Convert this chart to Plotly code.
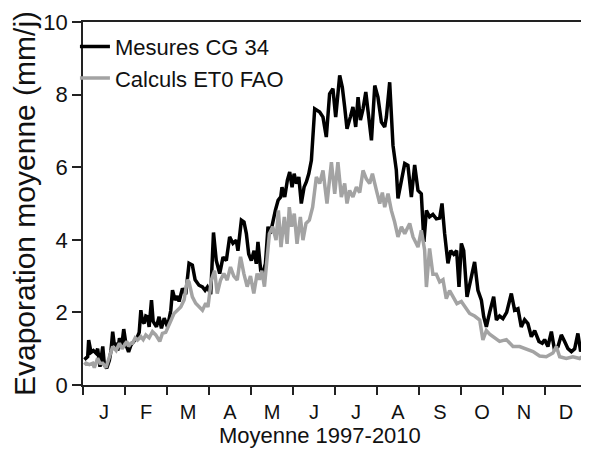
import plotly.graph_objects as go

# Day of year (1-365) at which values were read, and mean evaporation (mm/j)
days_mesures = [1, 3.4, 4.1, 5.8, 7.5, 9.4, 10.6, 12.3, 14.3, 15.5, 17.2, 19.1, 20.3, 21.5, 22.7, 24, 25.2,
                26.4, 28.1, 29.5, 31.2, 33, 34.7, 35.9, 37.8, 39.5, 40.7, 41.9, 43.1, 44.3, 45.5, 46.7,
                47.9, 49.6, 50.8, 53.2, 55.1, 56.8, 58.8, 61.2, 63.6, 64.8, 66.7, 68.4, 69.6, 72, 74.4,
                76.8, 79.2, 81.2, 84, 86.5, 88.4, 90.1, 92.5, 94.5, 96.5, 99, 101.4, 103.8, 106.2, 108.6,
                111, 112.2, 114.7, 116.6, 118.3, 120, 121.9, 123.9, 125.5, 126.7, 128.7, 130.4, 132.1,
                134, 135.7, 137.6, 139.3, 141.3, 143.2, 144.1, 146.1, 148, 149.7, 151.4, 152.9, 154.6,
                156.3, 158.1, 160.1, 161.8, 163.5, 165.4, 166.6, 167.8, 171.4, 173.8, 176.2, 178.6, 181,
                183, 185.9, 187.8, 189.5, 191.2, 193.6, 195.5, 197.5, 199.2, 200.9, 202.8, 204.8, 207.1,
                208.9, 211.3, 213.6, 216.1, 218.5, 219.7, 222.1, 224.5, 225.7, 226.9, 228.1, 230.6, 233,
                235.3, 237.8, 240.2, 242.6, 245, 246.9, 248.7, 251, 253.4, 255.9, 258.3, 260, 261.9,
                264.3, 266.3, 268.5, 270.6, 272.3, 274, 275.7, 278.1, 281.2, 283.6, 286, 288.5, 290.2,
                292.1, 294.5, 297.4, 299.4, 301.7, 304.1, 306.8, 310.2, 312.6, 315, 317.4, 319.8, 322.2,
                324.7, 327.1, 330.2, 332.6, 334.3, 336.7, 339.2, 341.5, 344, 346.4, 348.8, 351.2, 353.7,
                356.1, 358.4, 360.4, 362.1, 364.6]
mesures_cg34 = [0.7, 0.78, 1.24, 0.9, 0.95, 0.88, 1.0, 0.5, 1.06, 0.55, 0.46, 0.68, 0.95, 1.47, 1.1, 1.15, 0.95,
                1.29, 1.1, 1.54, 1.1, 0.91, 1.1, 1.15, 1.25, 1.33, 1.45, 2.06, 1.75, 1.7, 1.9, 1.88,
                1.6, 2.34, 1.75, 1.6, 1.88, 1.56, 1.84, 1.6, 2.06, 2.61, 2.34, 2.45, 2.3, 2.66, 2.5,
                3.35, 3.3, 2.9, 2.75, 2.7, 2.61, 2.7, 2.5, 4.2, 3.43, 3.07, 3.52, 3.43, 4.08, 3.9,
                3.99, 3.7, 4.54, 4.49, 4.17, 3.61, 3.43, 3.7, 3.34, 3.94, 3.15, 3.1, 3.34,
                4.36, 4.17, 4.54, 4.81, 5.09, 5.18, 5.45, 5.18, 5.64, 5.87, 5.45, 5.82, 5.55,
                5.73, 5.0, 5.45, 5.6, 5.82, 6.19, 7.1, 7.61, 7.52, 7.38, 6.83, 8.02, 8.16,
                7.38, 8.53, 8.2, 7.66, 7.06, 7.38, 7.66, 7.11, 7.93, 7.3, 7.6, 8.07, 7.38,
                6.74, 8.25, 7.93, 7.24, 7.11, 7.38, 8.34, 6.6, 6.3, 5.92, 5.14, 5.64, 6.1,
                6.05, 5.18, 6.06, 5.36, 5.27, 3.94, 4.81, 4.63, 4.7, 4.58, 4.6, 5.0, 4.17,
                3.35, 3.7, 3.6, 3.7, 2.7, 3.9, 3.7, 2.43, 2.98, 3.39, 2.61, 2.34, 1.88,
                1.6, 2.0, 2.43, 1.79, 1.9, 1.83, 2.0, 2.52, 2.06, 2.1, 1.6, 1.8, 1.69,
                1.33, 1.5, 1.2, 1.15, 1.25, 1.06, 1.47, 0.96, 1.06, 1.38, 1.2, 1.0, 0.92,
                1.0, 1.42, 0.92, 1.1, 1.42]

days_fao = [1, 2.2, 4.6, 7, 8.2, 10.6, 12.3, 14.3, 16.7, 19.1, 21.5, 24, 26.4, 28.3, 30, 31.7, 33, 34.7,
            35.9, 37.8, 39.5, 41.9, 43.6, 45.5, 47.9, 50.3, 52.7, 55.6, 57.5, 59.9, 62.8, 65.9, 68.4,
            70.8, 73.2, 75.6, 76.8, 79.2, 81.6, 84, 86.5, 88.9, 90.5, 92.9, 95.3, 97.2, 99.6, 102,
            104.4, 106.8, 109.2, 111.7, 114.1, 116.5, 118.9, 121.3, 123.7, 126.1, 127.8, 129.5, 131.4,
            135, 137.4, 139.8, 141.5, 143.4, 145.8, 147.8, 149.4, 151.1, 153, 155, 157.4, 159.3, 161.5,
            163.9, 166.3, 169, 171.4, 173.8, 176.7, 179.9, 182.3, 184.6, 187.1, 189.5, 191.2, 193.1,
            195.5, 198, 200.4, 202.8, 205.2, 207.6, 209.6, 212.5, 214.9, 216.8, 218.5, 220.9, 223.3,
            225.7, 228.1, 230.6, 233, 236.6, 239, 242.6, 245, 247.4, 248.7, 251, 253.4, 255.9, 258.3,
            260.7, 263.1, 265.5, 267.9, 270.8, 274, 276.4, 280, 283.6, 287.3, 289.6, 292.1, 294.5,
            296.9, 301.7, 306.6, 311.4, 316.2, 321.1, 325.9, 330.7, 335.5, 340.3, 342.8, 345.2, 350,
            354.8, 359.7, 364.5]
calculs_et0_fao = [0.55, 0.6, 0.56, 0.6, 0.48, 0.74, 0.6, 0.6, 0.48, 0.74, 1.06, 0.95, 1.15, 1.0, 1.1, 1.2, 1.06, 1.15,
                   1.15, 1.3, 1.24, 1.33, 1.25, 1.38, 1.3, 1.47, 1.38, 1.2, 1.42, 1.45, 1.7, 1.97, 2.06,
                   2.15, 2.34, 2.9, 2.84, 2.43, 2.25, 2.15, 2.06, 2.25, 2.15, 2.89, 3.15, 2.52, 2.89, 3.07,
                   2.89, 3.25, 3.0, 2.89, 3.53, 3.07, 2.71, 3.0, 2.52, 3.07, 2.9, 3.15, 2.71,
                   4.17, 4.36, 3.99, 4.81, 3.8, 4.63, 3.89, 4.9, 4.36, 4.72, 3.89, 4.63, 3.99, 4.45,
                   4.54, 4.9, 5.73, 5.55, 5.91, 5.0, 6.14, 5.27, 6.14, 5.18, 5.55, 5.0, 5.36,
                   5.18, 5.45, 5.3, 5.91, 5.68, 5.55, 5.82, 5.36, 5.0, 5.3, 4.9, 5.27, 4.81,
                   4.49, 4.08, 4.36, 4.17, 4.45, 4.08, 3.8, 4.26, 3.72, 2.7, 3.76, 3.05, 3.05, 2.84,
                   2.9, 2.38, 2.6, 2.45, 2.24, 2.3, 2.15, 1.97, 1.9, 1.79, 1.24, 1.5, 1.4,
                   1.33, 1.2, 1.25, 1.06, 1.06, 1.0, 0.92, 0.8, 0.78, 0.88, 1.06, 0.78, 0.73,
                   0.78, 0.73, 0.85]

month_labels = ["J", "F", "M", "A", "M", "J", "J", "A", "S", "O", "N", "D"]
y_ticks = [0, 2, 4, 6, 8, 10]

FONT = "Liberation Sans, Arial, sans-serif"
n_months = len(month_labels)
month_len = 365 / n_months
month_edges = [i * month_len for i in range(n_months + 1)]
month_mids = [(i + 0.5) * month_len for i in range(n_months)]

fig = go.Figure()
fig.add_trace(go.Scatter(x=days_mesures, y=mesures_cg34, mode="lines", name="Mesures CG 34",
                         line=dict(color="#000000", width=3.5)))
fig.add_trace(go.Scatter(x=days_fao, y=calculs_et0_fao, mode="lines", name="Calculs ET0 FAO",
                         line=dict(color="#a3a3a3", width=3.5)))

fig.update_layout(
    width=581, height=442,
    margin=dict(l=75, r=2, t=13.5, b=65, autoexpand=False),
    paper_bgcolor="white", plot_bgcolor="white",
    font=dict(family=FONT, color="#111111"),
    showlegend=True,
    legend=dict(x=-0.016, y=0.99, xanchor="left", yanchor="top", bgcolor="rgba(0,0,0,0)",
                font=dict(size=22, family=FONT, color="#111111"), itemwidth=30,
                tracegroupgap=0),
    xaxis=dict(range=[0, 365], tickmode="array", tickvals=month_mids, ticktext=month_labels,
               ticks="outside", ticklen=8, tickcolor="rgba(0,0,0,0)",
               tickfont=dict(size=20, family=FONT, color="#111111"),
               showline=True, linecolor="#222222", linewidth=1.5, mirror=True,
               showgrid=False, zeroline=False,
               minor=dict(tickmode="array", tickvals=month_edges, ticks="outside", ticklen=8,
                          tickcolor="#222222", tickwidth=1.5, showgrid=False)),
    yaxis=dict(range=[0, 10], tickmode="array", tickvals=y_ticks,
               ticks="outside", ticklen=9, tickcolor="#222222", tickwidth=1.5,
               tickfont=dict(size=22, family=FONT, color="#111111"),
               showline=True, linecolor="#222222", linewidth=1.5, mirror=True,
               showgrid=False, zeroline=False,
               title=dict(text="Evaporation moyenne (mm/j)", standoff=0,
                          font=dict(size=30, family=FONT, color="#111111"))),
    annotations=[dict(text="Moyenne 1997-2010", xref="paper", yref="paper", x=0.47, y=-0.098,
                      xanchor="center", yanchor="top", showarrow=False,
                      font=dict(size=22, family=FONT, color="#111111"))],
)

fig.write_html("out.html")
